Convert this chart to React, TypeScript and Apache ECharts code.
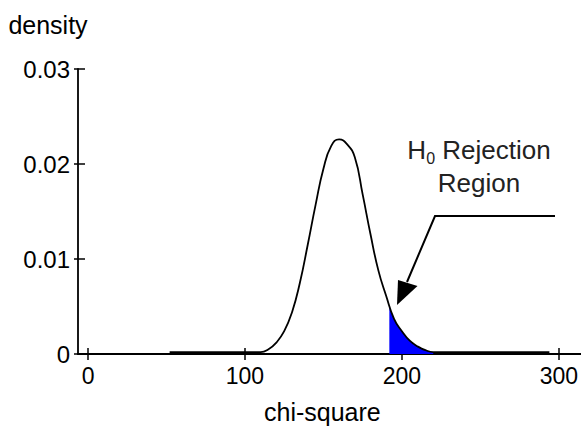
import React, { useEffect, useRef } from "react";
import * as echarts from "echarts";

// Curve (chi-square density)
const curveX = [52, 80, 100, 110, 115, 120, 125, 130, 135, 140, 145, 150, 155, 160, 165, 170, 175, 180, 185, 190, 195, 200, 205, 210, 215, 220, 240, 270, 294];
const curveY = [0.0002, 0.0002, 0.0002, 0.0002, 0.0005, 0.0012, 0.0024, 0.0044, 0.0075, 0.0115, 0.0157, 0.0195, 0.0219, 0.0226, 0.0221, 0.0207, 0.0168, 0.0126, 0.0088, 0.0061, 0.0037, 0.0024, 0.0014, 0.0008, 0.0004, 0.0002, 0.0002, 0.0002, 0.0002];
const rejectionX = [192, 195, 200, 205, 210, 215, 220];
const rejectionY = [0.0051, 0.0037, 0.0024, 0.0014, 0.0008, 0.0004, 0.0002];
const xTicks = [0, 100, 200, 300];
const xMin = -6.4;
const xMax = 314;
const yMin = 0;
const yMax = 0.03;
const yInterval = 0.01;

const FONT = "'Liberation Sans', Arial, sans-serif";

export default function App() {
  const ref = useRef<HTMLDivElement>(null);
  useEffect(() => {
    if (!ref.current) return;
    const chart = echarts.init(ref.current, undefined, { renderer: "svg" });
    const curve = curveX.map((x, i) => [x, curveY[i]]);
    const rej = rejectionX.map((x, i) => [x, rejectionY[i]]);
    const tickStyle = { color: "#000", width: 1.5 };
    chart.setOption({
      animation: false,
      backgroundColor: "#fff",
      grid: { left: 78, top: 69, right: 0, bottom: 79 },
      xAxis: [
        {
          type: "value",
          min: xMin,
          max: xMax,
          position: "bottom",
          name: "chi-square",
          nameLocation: "middle",
          nameGap: 45,
          nameTextStyle: { fontFamily: FONT, fontSize: 25, color: "#000", padding: [0, 14, 0, 0] },
          axisLine: { show: true, onZero: false, lineStyle: { color: "#000", width: 1.8 } },
          axisTick: { show: true, inside: false, length: 6, customValues: xTicks, lineStyle: tickStyle },
          axisLabel: { show: true, customValues: xTicks, margin: 10, fontFamily: FONT, fontSize: 23, color: "#000" },
          splitLine: { show: false },
        },
        {
          type: "value",
          min: xMin,
          max: xMax,
          position: "bottom",
          axisLine: { show: false, onZero: false },
          axisTick: { show: true, inside: true, length: 6, customValues: xTicks, lineStyle: tickStyle },
          axisLabel: { show: false },
          splitLine: { show: false },
        },
      ],
      yAxis: [
        {
          type: "value",
          min: yMin,
          max: yMax,
          interval: yInterval,
          position: "left",
          name: "density",
          nameLocation: "end",
          nameGap: 32,
          nameTextStyle: { fontFamily: FONT, fontSize: 25, color: "#000", align: "center", padding: [0, 60, 0, 0] },
          axisLine: { show: true, onZero: false, lineStyle: { color: "#000", width: 1.8 } },
          axisTick: { show: true, inside: false, length: 4, lineStyle: tickStyle },
          axisLabel: { show: true, margin: 8, fontFamily: FONT, fontSize: 24, color: "#000" },
          splitLine: { show: false },
        },
        {
          type: "value",
          min: yMin,
          max: yMax,
          interval: yInterval,
          position: "left",
          axisLine: { show: false, onZero: false },
          axisTick: { show: true, inside: true, length: 7, lineStyle: tickStyle },
          axisLabel: { show: false },
          splitLine: { show: false },
        },
      ],
      series: [
        {
          type: "line",
          name: "rejection",
          data: rej,
          xAxisIndex: 0,
          yAxisIndex: 0,
          smooth: 0.5,
          showSymbol: false,
          lineStyle: { width: 0 },
          areaStyle: { color: "#0000ff", opacity: 1 },
          silent: true,
        },
        {
          type: "line",
          name: "density",
          data: curve,
          xAxisIndex: 0,
          yAxisIndex: 0,
          smooth: 0.5,
          showSymbol: false,
          lineStyle: { color: "#000", width: 1.8 },
          silent: true,
        },
      ],
      graphic: [
        {
          type: "text",
          x: 479,
          y: 133,
          style: {
            text: "H{sub|0} Rejection\nRegion",
            fontFamily: FONT,
            fontSize: 26,
            lineHeight: 33,
            fill: "#222",
            align: "center",
            verticalAlign: "top",
            rich: {
              sub: { fontFamily: FONT, fontSize: 16, lineHeight: 14, verticalAlign: "bottom", fill: "#222" },
            },
          },
        },
        {
          type: "polyline",
          shape: { points: [[555, 216], [435, 216], [407, 282]] },
          style: { stroke: "#000", lineWidth: 2, fill: "none" },
        },
        {
          type: "polygon",
          shape: { points: [[397, 305], [398, 280], [417.5, 286]] },
          style: { fill: "#000" },
        },
      ],
    });
    return () => chart.dispose();
  }, []);
  return (
    <div
      ref={ref}
      style={{ position: "fixed", left: 0, top: 0, width: 581, height: 433, background: "#fff" }}
    />
  );
}
